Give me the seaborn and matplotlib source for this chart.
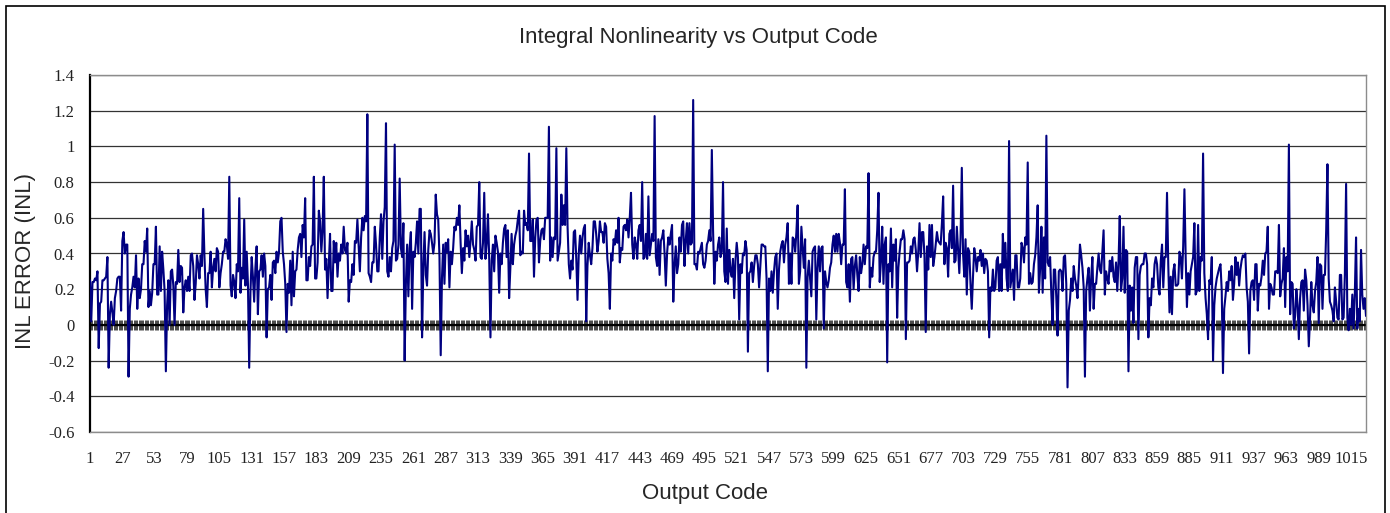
import numpy as np
import matplotlib
matplotlib.use('Agg')
import matplotlib.pyplot as plt
import matplotlib.patches as patches
import seaborn as sns

# ── Data (INL per output code) ─────────────────────────────────────────────
inl_001_103 = [
    0.25, 0.02, 0.24, 0.24, 0.26, 0.25, 0.30, -0.13, 0.12, 0.13,
    0.25, 0.25, 0.26, 0.27, 0.38, -0.24, 0.06, 0.13, 0.07, 0.00,
    0.15, 0.19, 0.26, 0.27, 0.27, 0.08, 0.47, 0.52, 0.40, 0.45,
    0.45, -0.29, 0.09, 0.17, 0.21, 0.27, 0.21, 0.39, 0.09, 0.26,
    0.15, 0.20, 0.34, 0.34, 0.47, 0.41, 0.54, 0.10, 0.19, 0.11,
    0.18, 0.34, 0.34, 0.55, 0.17, 0.17, 0.44, 0.19, 0.41, 0.31,
    0.19, -0.26, 0.11, 0.25, 0.00, 0.30, 0.31, 0.22, 0.00, 0.24,
    0.23, 0.42, 0.24, 0.33, 0.32, 0.07, 0.21, 0.25, 0.19, 0.27,
    0.19, 0.39, 0.40, 0.33, 0.14, 0.23, 0.39, 0.34, 0.26, 0.39,
    0.33, 0.65, 0.39, 0.20, 0.10, 0.29, 0.29, 0.41, 0.21, 0.32,
    0.37, 0.30, 0.43]
inl_104_206 = [
    0.41, 0.21, 0.29, 0.34, 0.41, 0.41, 0.48, 0.45, 0.37, 0.83,
    0.22, 0.16, 0.28, 0.24, 0.15, 0.34, 0.30, 0.71, 0.18, 0.32,
    0.26, 0.59, 0.22, 0.41, 0.23, -0.24, 0.18, 0.38, 0.27, 0.13,
    0.32, 0.44, 0.06, 0.30, 0.31, 0.39, 0.27, 0.40, 0.33, -0.07,
    0.20, 0.21, 0.28, 0.14, 0.35, 0.36, 0.29, 0.41, 0.35, 0.41,
    0.58, 0.60, 0.41, 0.34, 0.23, -0.04, 0.23, 0.18, 0.36, 0.11,
    0.41, 0.16, 0.30, 0.31, 0.42, 0.49, 0.51, 0.38, 0.56, 0.49,
    0.71, 0.25, 0.25, 0.38, 0.33, 0.44, 0.45, 0.83, 0.26, 0.26,
    0.35, 0.64, 0.58, 0.41, 0.53, 0.83, 0.31, 0.37, 0.15, 0.34,
    0.51, 0.19, 0.19, 0.47, 0.35, 0.46, 0.27, 0.40, 0.36, 0.45,
    0.40, 0.55, 0.42]
inl_207_309 = [
    0.40, 0.46, 0.13, 0.25, 0.24, 0.34, 0.28, 0.47, 0.46, 0.59,
    0.45, 0.30, 0.49, 0.60, 0.53, 0.61, 0.58, 1.18, 0.29, 0.27,
    0.24, 0.35, 0.35, 0.55, 0.45, 0.30, 0.30, 0.49, 0.62, 0.37,
    0.58, 0.66, 1.13, 0.30, 0.27, 0.38, 0.30, 0.43, 0.47, 1.01,
    0.36, 0.37, 0.45, 0.82, 0.43, 0.38, 0.57, -0.20, 0.23, 0.45,
    0.16, 0.43, 0.52, 0.09, 0.41, 0.38, 0.46, 0.58, 0.40, 0.65,
    0.65, -0.07, 0.32, 0.52, 0.28, 0.22, 0.42, 0.53, 0.51, 0.46,
    0.40, 0.46, 0.73, 0.62, 0.59, 0.38, -0.17, 0.26, 0.45, 0.23,
    0.46, 0.41, 0.48, 0.21, 0.41, 0.34, 0.43, 0.55, 0.53, 0.60,
    0.56, 0.67, 0.46, 0.29, 0.43, 0.36, 0.53, 0.44, 0.50, 0.38,
    0.47, 0.58, 0.45]
inl_310_412 = [
    0.42, 0.36, 0.55, 0.56, 0.80, 0.38, 0.37, 0.46, 0.74, 0.37,
    0.46, 0.62, 0.37, -0.07, 0.36, 0.45, 0.30, 0.50, 0.46, 0.41,
    0.18, 0.40, 0.34, 0.46, 0.54, 0.56, 0.38, 0.53, 0.15, 0.32,
    0.51, 0.34, 0.45, 0.50, 0.53, 0.59, 0.64, 0.39, 0.41, 0.40,
    0.64, 0.56, 0.57, 0.53, 0.96, 0.47, 0.47, 0.59, 0.27, 0.49,
    0.59, 0.60, 0.35, 0.47, 0.53, 0.54, 0.48, 0.60, 0.60, 0.60,
    1.11, 0.36, 0.49, 0.38, 0.49, 0.48, 0.99, 0.36, 0.41, 0.46,
    0.73, 0.56, 0.67, 0.56, 0.99, 0.55, 0.34, 0.26, 0.36, 0.31,
    0.52, 0.53, 0.37, 0.14, 0.40, 0.50, 0.40, 0.49, 0.54, 0.56,
    0.02, 0.33, 0.46, 0.39, 0.34, 0.43, 0.58, 0.58, 0.51, 0.41,
    0.47, 0.58, 0.52]
inl_413_515 = [
    0.52, 0.46, 0.57, 0.55, 0.37, 0.29, 0.09, 0.40, 0.36, 0.48,
    0.45, 0.53, 0.46, 0.60, 0.35, 0.43, 0.42, 0.55, 0.56, 0.53,
    0.59, 0.49, 0.60, 0.74, 0.45, 0.37, 0.49, 0.45, 0.37, 0.53,
    0.56, 0.47, 0.80, 0.37, 0.38, 0.51, 0.37, 0.72, 0.39, 0.45,
    0.51, 0.47, 1.17, 0.38, 0.33, 0.48, 0.28, 0.47, 0.49, 0.53,
    0.40, 0.22, 0.40, 0.49, 0.45, 0.51, 0.56, 0.13, 0.33, 0.44,
    0.29, 0.34, 0.49, 0.41, 0.56, 0.58, 0.33, 0.47, 0.57, 0.40,
    0.57, 0.45, 0.46, 1.26, 0.34, 0.34, 0.31, 0.41, 0.40, 0.43,
    0.46, 0.34, 0.32, 0.36, 0.45, 0.47, 0.53, 0.47, 0.98, 0.53,
    0.23, 0.41, 0.36, 0.45, 0.49, 0.38, 0.41, 0.80, 0.30, 0.24,
    0.54, 0.23, 0.42]
inl_516_618 = [
    0.30, 0.27, 0.37, 0.15, 0.36, 0.46, 0.38, 0.03, 0.34, 0.29,
    0.40, 0.39, 0.47, 0.42, -0.15, 0.29, 0.30, 0.35, 0.24, 0.33,
    0.39, 0.39, 0.34, 0.21, 0.33, 0.45, 0.45, 0.44, 0.44, 0.26,
    -0.26, 0.26, 0.19, 0.30, 0.18, 0.30, 0.38, 0.40, 0.09, 0.31,
    0.41, 0.45, 0.47, 0.35, 0.45, 0.49, 0.57, 0.23, 0.40, 0.23,
    0.49, 0.48, 0.41, 0.52, 0.67, 0.23, 0.30, 0.55, 0.43, 0.32,
    0.48, -0.24, 0.27, 0.36, 0.26, 0.16, 0.41, 0.43, 0.44, 0.03,
    0.32, 0.44, 0.30, 0.43, 0.44, -0.02, 0.30, 0.24, 0.21, 0.25,
    0.32, 0.35, 0.45, 0.50, 0.41, 0.51, 0.41, 0.51, 0.46, 0.34,
    0.45, 0.45, 0.76, 0.24, 0.21, 0.34, 0.13, 0.37, 0.38, 0.20,
    0.33, 0.39, 0.28]
inl_619_721 = [
    0.19, 0.38, 0.29, 0.34, 0.45, 0.34, 0.44, 0.43, 0.85, 0.21,
    0.32, 0.27, 0.38, 0.41, 0.41, 0.53, 0.74, 0.24, 0.36, 0.55,
    0.23, 0.45, 0.49, -0.21, 0.34, 0.30, 0.54, 0.21, 0.45, 0.36,
    0.48, 0.04, 0.32, 0.41, 0.48, 0.48, 0.53, 0.48, -0.08, 0.35,
    0.35, 0.36, 0.44, 0.40, 0.48, 0.49, 0.42, 0.30, 0.41, 0.57,
    0.38, 0.52, 0.52, 0.38, -0.04, 0.44, 0.31, 0.56, 0.38, 0.56,
    0.33, 0.38, 0.45, 0.52, 0.47, 0.46, 0.45, 0.57, 0.72, 0.34,
    0.46, 0.43, 0.27, 0.51, 0.53, 0.43, 0.78, 0.35, 0.36, 0.55,
    0.42, 0.29, 0.49, 0.88, 0.40, 0.27, 0.48, 0.17, 0.43, 0.41,
    0.23, 0.09, 0.27, 0.43, 0.38, 0.30, 0.38, 0.36, 0.42, 0.33,
    0.40, 0.29, 0.37]
inl_722_824 = [
    0.36, 0.30, -0.07, 0.21, 0.19, 0.31, 0.19, 0.21, 0.36, 0.38,
    0.19, 0.34, 0.19, 0.51, 0.32, 0.46, 0.26, 0.19, 1.03, 0.21,
    0.26, 0.31, 0.14, 0.39, 0.39, 0.21, 0.21, 0.26, 0.46, 0.43,
    0.35, 0.49, 0.45, 0.91, 0.23, 0.29, 0.23, 0.24, 0.34, 0.39,
    0.49, 0.67, 0.18, 0.32, 0.55, 0.18, 0.49, 0.26, 1.06, 0.35,
    0.33, 0.38, 0.17, 0.00, 0.31, 0.31, 0.15, -0.06, 0.30, 0.31,
    0.30, 0.19, 0.38, 0.39, 0.23, -0.35, 0.08, 0.14, 0.26, 0.19,
    0.33, 0.26, 0.22, 0.15, 0.29, 0.45, 0.39, 0.32, 0.21, -0.29,
    0.19, 0.26, 0.32, 0.08, 0.26, 0.38, 0.09, 0.23, 0.23, 0.32,
    0.40, 0.31, 0.29, 0.41, 0.53, 0.17, 0.30, 0.26, 0.23, 0.36,
    0.30, 0.38, 0.27]
inl_825_927 = [
    0.24, 0.35, 0.19, 0.35, 0.61, 0.19, 0.26, 0.55, 0.18, 0.42,
    0.41, -0.26, 0.22, 0.08, 0.21, 0.01, 0.32, 0.38, 0.38, -0.08,
    0.28, 0.33, 0.34, 0.34, 0.40, 0.40, 0.34, -0.07, 0.15, 0.11,
    0.26, 0.21, 0.34, 0.38, 0.34, 0.21, 0.17, 0.36, 0.45, 0.21,
    0.38, 0.38, 0.74, 0.34, 0.07, 0.27, 0.06, 0.30, 0.34, 0.22,
    0.22, 0.23, 0.41, 0.38, 0.26, 0.44, 0.76, 0.38, 0.10, 0.29,
    0.17, 0.30, 0.34, 0.38, 0.57, 0.17, 0.19, 0.56, 0.19, 0.38,
    0.36, 0.96, 0.29, 0.15, 0.06, -0.08, 0.25, 0.23, 0.38, -0.20,
    0.11, 0.21, 0.26, 0.29, 0.32, 0.34, 0.19, -0.27, 0.09, 0.16,
    0.24, 0.19, 0.30, 0.25, 0.33, 0.14, 0.23, 0.38, 0.28, 0.35,
    0.22, 0.31, 0.36]
inl_928_1027 = [
    0.39, 0.38, 0.40, 0.21, 0.13, -0.16, 0.19, 0.24, 0.25, 0.14,
    0.34, 0.34, 0.08, 0.23, 0.22, 0.27, 0.36, 0.28, 0.40, 0.41,
    0.55, 0.09, 0.23, 0.21, 0.17, 0.17, 0.30, 0.30, 0.29, 0.56,
    0.16, 0.23, 0.26, 0.43, 0.10, 0.38, 0.30, 1.01, 0.06, 0.24,
    0.23, -0.02, 0.05, 0.20, 0.11, -0.08, 0.15, 0.24, 0.25, 0.08,
    0.31, 0.25, 0.11, -0.12, 0.04, 0.24, 0.11, 0.07, 0.19, 0.24,
    0.38, 0.01, 0.34, 0.33, 0.09, 0.28, 0.28, 0.53, 0.90, 0.26,
    0.13, 0.11, 0.08, 0.02, 0.21, 0.13, 0.04, 0.03, 0.28, 0.28,
    0.03, 0.04, 0.28, 0.79, 0.04, -0.03, 0.09, 0.00, 0.17, -0.02,
    0.17, 0.49, -0.02, 0.09, 0.02, 0.42, 0.17, 0.09, 0.15, 0.05]

y_ticks = [-0.6, -0.4, -0.2, 0, 0.2, 0.4, 0.6, 0.8, 1, 1.2, 1.4]
y_tick_labels = ['-0.6', '-0.4', '-0.2', '0', '0.2', '0.4', '0.6', '0.8', '1', '1.2', '1.4']
x_tick_step = 26

inl = np.array(inl_001_103 + inl_104_206 + inl_207_309 + inl_310_412 + inl_413_515
               + inl_516_618 + inl_619_721 + inl_722_824 + inl_825_927 + inl_928_1027)
codes = np.arange(1, len(inl) + 1)
x_ticks = codes[::x_tick_step]

# ── Plot ───────────────────────────────────────────────────────────────────
sns.set_style("white")
plt.rcParams['font.family'] = ['Liberation Sans', 'DejaVu Sans']

fig = plt.figure(figsize=(13.9, 5.13), dpi=100)
ax = fig.add_axes([90/1390, 1 - 432/513, (1366 - 90)/1390, (432 - 75)/513])

sns.lineplot(x=codes, y=inl, ax=ax, color='#000080', linewidth=1.5, zorder=3)

ax.set_xlim(codes[0], codes[-1])
ax.set_ylim(y_ticks[0], y_ticks[-1])
ax.set_yticks(y_ticks)
ax.set_yticklabels(y_tick_labels, family='Liberation Serif', fontsize=12, color='#222222')
ax.set_xticks(x_ticks)
ax.set_xticklabels([str(c) for c in x_ticks], family='Liberation Serif', fontsize=12, color='#222222')
ax.tick_params(axis='y', length=0, pad=11)
ax.tick_params(axis='x', length=0, pad=14)
ax.yaxis.grid(True, color='#333333', linewidth=0.9)
ax.xaxis.grid(False)
ax.set_xlabel('')
ax.set_ylabel('')

for side in ['top', 'right', 'bottom']:
    ax.spines[side].set_color('#8c8c8c')
    ax.spines[side].set_linewidth(1.0)
ax.spines['left'].set_color('black')
ax.spines['left'].set_linewidth(1.6)

# axis crossing at zero, with a tick for every code
ax.axhline(0, color='black', linewidth=1.6, zorder=2)
zero_pos = (0 - y_ticks[0]) / (y_ticks[-1] - y_ticks[0])
sec = ax.secondary_xaxis(zero_pos)
sec.set_xticks(codes)
sec.tick_params(axis='x', length=7, width=0.5, direction='inout', color='black',
                labelbottom=False, labeltop=False)
sec.spines['bottom'].set_visible(False)
sec.spines['top'].set_visible(False)

fig.text(698/1390, 1 - 38/513, 'Integral Nonlinearity vs Output Code',
         ha='center', va='center', fontsize=16)
fig.text(705/1390, 1 - 494/513, 'Output Code', ha='center', va='center', fontsize=16)
fig.text(26/1390, 1 - 261/513, 'INL ERROR (INL)', ha='center', va='center',
         rotation=90, fontsize=16)

fig.patches.append(patches.Rectangle((6/1390, -0.01), (1385 - 6)/1390, 1.01 - 6/513,
                                     transform=fig.transFigure, fill=False,
                                     edgecolor='black', linewidth=1.2))

fig.savefig('out.png', dpi=100)
plt.close(fig)
